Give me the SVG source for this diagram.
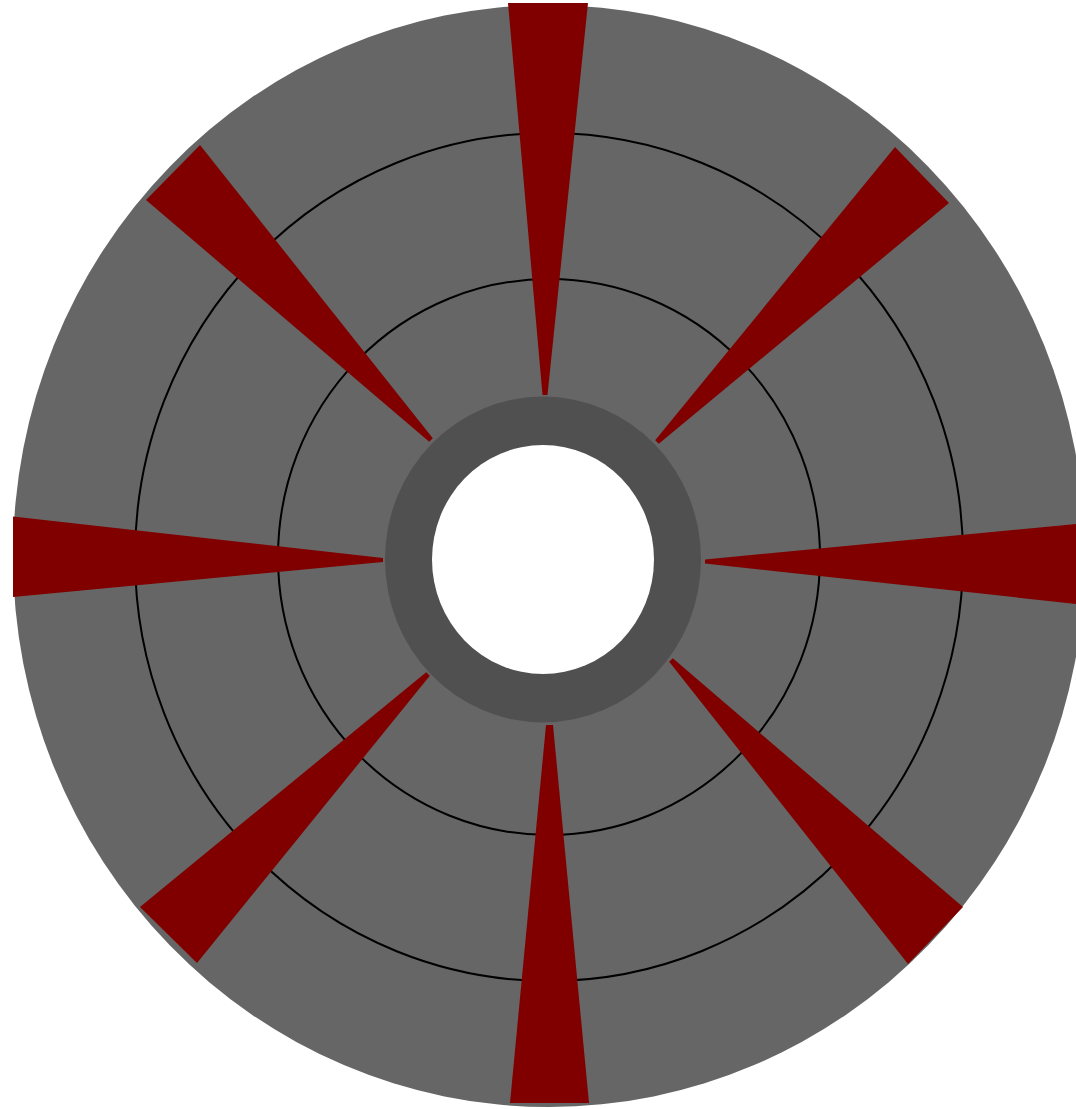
<svg xmlns="http://www.w3.org/2000/svg" width="1076" height="1109" viewBox="0 0 1076 1109">
<style>
.sector{fill:#800000;stroke:none}
.track{fill:none;stroke:#000000;stroke-width:2}
</style>
<rect width="1076" height="1109" fill="#ffffff"/>
<g id="platter">
<ellipse cx="549" cy="556" rx="536" ry="551" fill="#666666"/>
</g>
<g id="tracks">
<ellipse class="track" cx="549" cy="557" rx="414" ry="424"/>
<ellipse class="track" cx="549" cy="557" rx="271" ry="278"/>
</g>
<g id="sectors">
<polygon class="sector" points="508,3 588,3 547.5,395 542.5,395"/>
<polygon class="sector" points="510,1103 589,1103 553,725 546,725"/>
<polygon class="sector" points="13,516.5 13,597 383,562 383,558"/>
<polygon class="sector" points="1086,523 1086,605 705,563.5 705,559.5"/>
<polygon class="sector" points="146,200 200,145 432.8,438.3 429.2,441.7"/>
<polygon class="sector" points="895,147 949,203 658.8,443.8 655.2,440.2"/>
<polygon class="sector" points="140,907 197,963 429.8,675.8 426.2,672.2"/>
<polygon class="sector" points="963,907 908,964 669.2,661.7 672.8,658.3"/>
</g>
<g id="hub">
<ellipse cx="543" cy="559.5" rx="158" ry="163" fill="#505050"/>
<ellipse cx="543" cy="559.5" rx="111" ry="114.5" fill="#ffffff"/>
</g>
</svg>
